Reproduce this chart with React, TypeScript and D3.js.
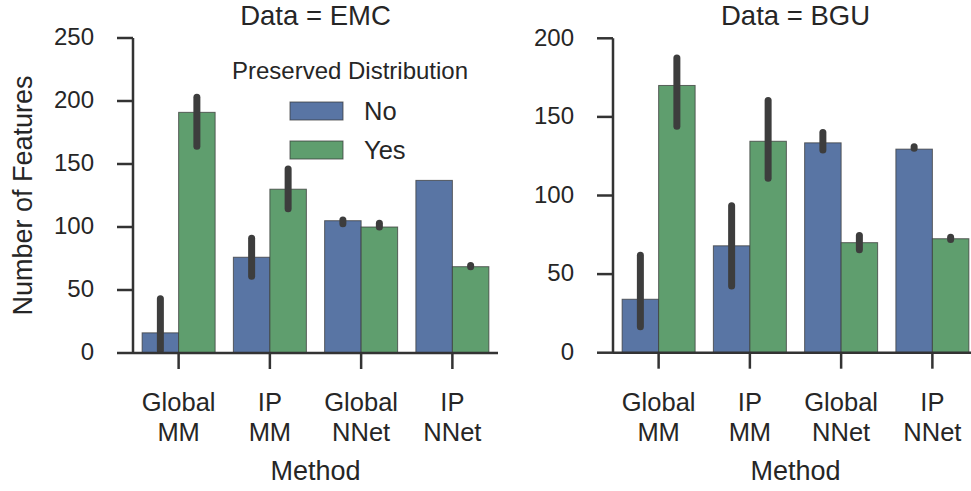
import React from "react";
import * as d3 from "d3";

const methods = ["Global MM", "IP MM", "Global NNet", "IP NNet"];
const hues = ["No", "Yes"];
const hueColors = ["#5975a4", "#5f9e6e"];

const emcNo = [16, 76, 105, 137];
const emcYes = [191, 130, 100, 68.5];
const emcNoLo = [2, 61, 102.5, null];
const emcNoHi = [43, 91, 105.5, null];
const emcYesLo = [164, 114.5, 100, 68.5];
const emcYesHi = [203, 146, 103, 69.5];

const bguNo = [34, 68, 133.5, 129.5];
const bguYes = [170, 134.5, 70, 72.5];
const bguNoLo = [16.5, 42.5, 129, 130];
const bguNoHi = [62, 93.5, 140, 131];
const bguYesLo = [144, 111, 65.5, 72];
const bguYesHi = [187.5, 160.5, 74.5, 73.5];

const emcTicks = [0, 50, 100, 150, 200, 250];
const bguTicks = [0, 50, 100, 150, 200];

const FONT = "'Liberation Sans', Arial, sans-serif";
const TXT = "#262626";
const AX = "#333333";

type Panel = {
  title: string;
  x0: number;
  x1: number;
  yTop: number;
  yBot: number;
  max: number;
  ticks: number[];
  series: number[][];
  lo: (number | null)[][];
  hi: (number | null)[][];
};

function PanelView({ p, showYLabel, legend }: { p: Panel; showYLabel: boolean; legend: boolean }) {
  const x = d3.scaleBand<string>().domain(methods).range([p.x0, p.x1]).paddingInner(0).paddingOuter(0);
  const inner = d3.scaleBand<string>().domain(hues).range([0, x.bandwidth() * 0.8]);
  const y = d3.scaleLinear().domain([0, p.max]).range([p.yBot, p.yTop]);
  const bw = inner.bandwidth();
  const off = x.bandwidth() * 0.1;
  const cx = (p.x0 + p.x1) / 2;
  return (
    <g>
      <text x={cx} y={25} textAnchor="middle" fontSize={27.5} fill={TXT} fontFamily={FONT}>
        {p.title}
      </text>
      {methods.map((m, i) =>
        hues.map((h, j) => {
          const v = p.series[j][i];
          const bx = (x(m) as number) + off + (inner(h) as number);
          return (
            <rect
              key={m + h}
              x={bx}
              y={y(v)}
              width={bw}
              height={y(0) - y(v)}
              fill={hueColors[j]}
              stroke="#3a3a3a"
              strokeOpacity={0.75}
              strokeWidth={1}
            />
          );
        })
      )}
      {methods.map((m, i) =>
        hues.map((h, j) => {
          const lo = p.lo[j][i];
          const hi = p.hi[j][i];
          if (lo === null || hi === null) return null;
          const ex = (x(m) as number) + off + (inner(h) as number) + bw / 2;
          return (
            <line
              key={"e" + m + h}
              x1={ex}
              x2={ex}
              y1={y(lo)}
              y2={y(hi)}
              stroke="#3d3d3d"
              strokeWidth={7}
              strokeLinecap="round"
            />
          );
        })
      )}
      {/* y axis */}
      <line x1={p.x0} x2={p.x0} y1={y(p.max)} y2={y(0)} stroke={AX} strokeWidth={2.5} />
      {p.ticks.map((t) => (
        <g key={t}>
          <line x1={p.x0 - 16} x2={p.x0} y1={y(t)} y2={y(t)} stroke={AX} strokeWidth={2.5} />
          <text
            x={p.x0 - 39}
            y={y(t)}
            dy="0.3em"
            textAnchor="end"
            fontSize={24}
            fill={TXT}
            fontFamily={FONT}
          >
            {t}
          </text>
        </g>
      ))}
      {/* x axis */}
      <line x1={p.x0} x2={p.x1} y1={y(0)} y2={y(0)} stroke={AX} strokeWidth={2.5} />
      {methods.map((m) => {
        const mx = (x(m) as number) + x.bandwidth() / 2;
        const parts = m.split(" ");
        return (
          <g key={"xt" + m}>
            <line x1={mx} x2={mx} y1={y(0)} y2={y(0) + 16} stroke={AX} strokeWidth={2.5} />
            {parts.map((s, k) => (
              <text
                key={k}
                x={mx}
                y={411 + k * 29.5}
                textAnchor="middle"
                fontSize={25.5}
                fill={TXT}
                fontFamily={FONT}
              >
                {s}
              </text>
            ))}
          </g>
        );
      })}
      <text x={cx} y={480} textAnchor="middle" fontSize={27} fill={TXT} fontFamily={FONT}>
        Method
      </text>
      {showYLabel && (
        <text
          transform={`translate(32, ${(p.yTop + p.yBot) / 2}) rotate(-90)`}
          textAnchor="middle"
          fontSize={27}
          fill={TXT}
          fontFamily={FONT}
        >
          Number of Features
        </text>
      )}
      {legend && (
        <g>
          <text x={350} y={79} textAnchor="middle" fontSize={24} fill={TXT} fontFamily={FONT}>
            Preserved Distribution
          </text>
          {hues.map((h, j) => (
            <g key={"lg" + h}>
              <rect
                x={290}
                y={102 + j * 39}
                width={53}
                height={18}
                fill={hueColors[j]}
                stroke="#3a3a3a"
                strokeOpacity={0.75}
                strokeWidth={1}
              />
              <text x={364} y={120 + j * 39} fontSize={25.5} fill={TXT} fontFamily={FONT}>
                {h}
              </text>
            </g>
          ))}
        </g>
      )}
    </g>
  );
}

export default function App() {
  const emc: Panel = {
    title: "Data = EMC",
    x0: 133,
    x1: 498,
    yTop: 38,
    yBot: 353,
    max: 250,
    ticks: emcTicks,
    series: [emcNo, emcYes],
    lo: [emcNoLo, emcYesLo],
    hi: [emcNoHi, emcYesHi],
  };
  const bgu: Panel = {
    title: "Data = BGU",
    x0: 613,
    x1: 978,
    yTop: 38.3,
    yBot: 352.7,
    max: 200,
    ticks: bguTicks,
    series: [bguNo, bguYes],
    lo: [bguNoLo, bguYesLo],
    hi: [bguNoHi, bguYesHi],
  };
  return (
    <svg
      width={971}
      height={491}
      style={{ position: "absolute", left: 0, top: 0, background: "#ffffff" }}
    >
      <rect x={0} y={0} width={971} height={491} fill="#ffffff" />
      <PanelView p={emc} showYLabel={true} legend={true} />
      <PanelView p={bgu} showYLabel={false} legend={false} />
    </svg>
  );
}
